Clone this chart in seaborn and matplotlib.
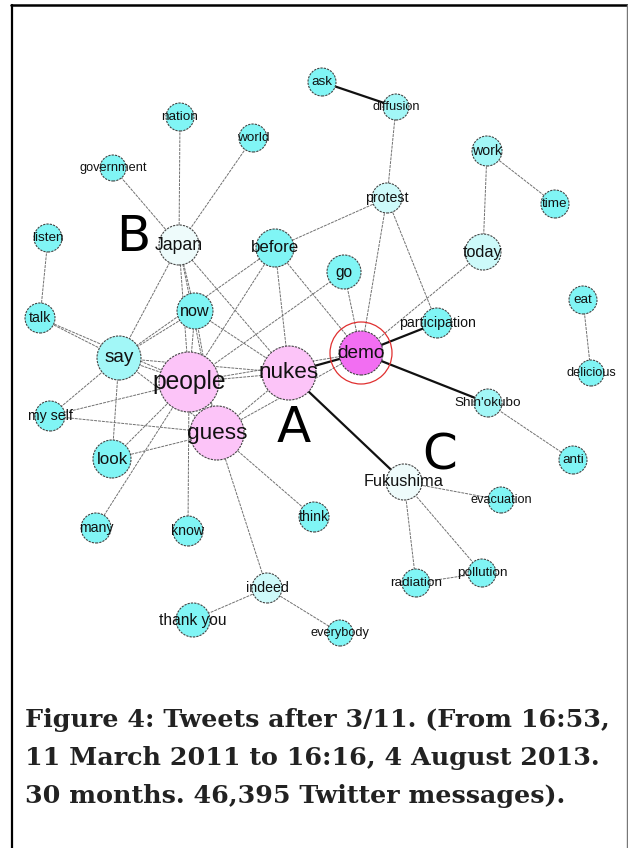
"""
Word co-occurrence network of tweets after 3/11, redrawn with seaborn.
"""

import pandas as pd
import matplotlib.pyplot as plt
import seaborn as sns

# node layout (pixel coordinates), radius and colour group
words = ["ask", "diffusion", "nation", "world", "government", "work", "time",
         "protest", "listen", "Japan", "before", "today", "go", "talk", "now",
         "eat", "participation", "demo", "say", "people", "nukes", "delicious",
         "Shin'okubo", "my self", "guess", "look", "anti", "Fukushima",
         "evacuation", "many", "know", "think", "indeed", "radiation",
         "pollution", "thank you", "everybody"]
node_x = [322, 396, 180, 253, 113, 487, 555, 387, 48, 179, 275, 483, 344, 40,
          195, 583, 437, 361, 119, 189, 289, 591, 488, 50, 217, 112, 573, 404,
          501, 96, 188, 314, 267, 416, 482, 193, 340]
node_y = [82, 107, 117, 138, 168, 151, 204, 198, 238, 245, 248, 252, 272, 318,
          311, 300, 323, 353, 358, 382, 373, 373, 403, 416, 433, 459, 460, 482,
          500, 528, 531, 517, 588, 583, 573, 620, 633]
node_r = [14, 13, 14, 14, 13, 15, 14, 15, 14, 20, 19, 18, 17, 15, 18, 14, 15,
          22, 22, 30, 27, 13, 14, 15, 27, 19, 14, 18, 13, 15, 15, 15, 15, 14,
          14, 17, 13]
node_group = ["base", "mid", "base", "base", "base", "mid", "base", "light",
              "base", "pale", "base", "light", "base", "base", "base", "base",
              "base", "hub", "mid", "core", "core", "base", "mid", "base",
              "core", "base", "base", "pale", "base", "base", "base", "base",
              "light", "base", "base", "base", "base"]

edge_src = ["ask", "diffusion", "protest", "protest", "protest", "work", "work",
            "today", "government", "nation", "world", "listen", "Japan",
            "Japan", "Japan", "Japan", "Japan", "before", "before", "before",
            "before", "go", "go", "talk", "talk", "now", "now", "now", "now",
            "say", "say", "say", "say", "say", "people", "people", "people",
            "people", "people", "people", "nukes", "nukes", "nukes", "guess",
            "guess", "guess", "guess", "guess", "demo", "demo", "Shin'okubo",
            "eat", "Fukushima", "Fukushima", "Fukushima", "radiation",
            "indeed", "indeed", "people"]
edge_dst = ["diffusion", "protest", "before", "demo", "participation", "today",
            "time", "demo", "Japan", "Japan", "Japan", "talk", "say", "now",
            "people", "guess", "nukes", "say", "people", "nukes", "demo",
            "people", "demo", "say", "people", "say", "people", "nukes",
            "guess", "people", "nukes", "my self", "look", "guess", "nukes",
            "guess", "my self", "look", "many", "know", "demo", "guess",
            "Fukushima", "demo", "my self", "look", "think", "indeed",
            "participation", "Shin'okubo", "anti", "delicious", "evacuation",
            "radiation", "pollution", "pollution", "thank you", "everybody",
            "demo"]
strong_edges = [("ask", "diffusion"), ("nukes", "demo"), ("nukes", "Fukushima"),
                ("demo", "participation"), ("demo", "Shin'okubo")]

highlighted = ["demo"]

cluster_labels = ["A", "B", "C"]
cluster_x = [294, 133, 440]
cluster_y = [428, 237, 456]

caption_lines = ["Figure 4: Tweets after 3/11. (From 16:53,",
                 "11 March 2011 to 16:16, 4 August 2013.",
                 "30 months. 46,395 Twitter messages)."]

group_colors = {"hub": "#F26EF2", "core": "#FCC4F8", "pale": "#EEFBFB",
                "light": "#CDFAFA", "mid": "#A2F7F7", "base": "#80F5F5"}

nodes = pd.DataFrame({"word": words, "x": node_x, "y": node_y,
                      "r": node_r, "group": node_group})
# marker area in pt^2 at 100 dpi (1 px = 0.72 pt)
nodes["s"] = (2 * nodes["r"] * 0.72) ** 2
pos = nodes.set_index("word")

rows = []
for i, (a, b) in enumerate(zip(edge_src, edge_dst)):
    strong = (a, b) in strong_edges
    for w in (a, b):
        rows.append({"edge": i, "x": pos.loc[w, "x"], "y": pos.loc[w, "y"],
                     "kind": "strong" if strong else "weak"})
edges = pd.DataFrame(rows)

sns.set_style("white")
fig = plt.figure(figsize=(6.28, 8.48), dpi=100)
ax = fig.add_axes([0, 0, 1, 1])

for kind, color, lw, ls in [("weak", "#707070", 0.7, (0, (3, 1))),
                            ("strong", "#111111", 1.6, "-")]:
    sub = edges[edges["kind"] == kind]
    sns.lineplot(data=sub, x="x", y="y", units="edge", estimator=None,
                 sort=False, color=color, linewidth=lw, linestyle=ls,
                 ax=ax, legend=False, zorder=1)

# red ring around the most central word
ring = nodes[nodes["word"].isin(highlighted)]
ax.scatter(ring["x"], ring["y"], s=(2 * (ring["r"] + 9) * 0.72) ** 2,
           facecolors="none", edgecolors="#e03030", linewidths=0.9, zorder=2)

smin, smax = nodes["s"].min(), nodes["s"].max()
sns.scatterplot(data=nodes, x="x", y="y", hue="group", palette=group_colors,
                size="s", sizes=(smin, smax), size_norm=(smin, smax),
                edgecolor="#444444", linewidth=0.8, linestyle=(0, (2, 1)),
                legend=False, ax=ax, zorder=3)

for _, row in nodes.iterrows():
    ax.text(row["x"], row["y"], row["word"], ha="center", va="center",
            fontsize=2.7 + 0.5 * row["r"], family="Liberation Sans",
            color="#111111", zorder=4)

for lab, cx, cy in zip(cluster_labels, cluster_x, cluster_y):
    ax.text(cx, cy, lab, ha="center", va="center", fontsize=36,
            family="DejaVu Sans", color="black", zorder=4)

for k, line in enumerate(caption_lines):
    ax.text(25, 727 + 38 * k, line, ha="left", va="baseline", fontsize=18.3,
            family="DejaVu Serif", fontweight="bold", color="#222222")

# frame around the figure
ax.plot([11, 627], [5, 5], color="black", linewidth=1.8)
ax.plot([12, 12], [5, 848], color="black", linewidth=1.6)
ax.plot([626.5, 626.5], [5, 848], color="#777777", linewidth=1.0)

ax.set_xlim(0, 628)
ax.set_ylim(848, 0)
ax.axis("off")
fig.savefig("out.png", dpi=100)
